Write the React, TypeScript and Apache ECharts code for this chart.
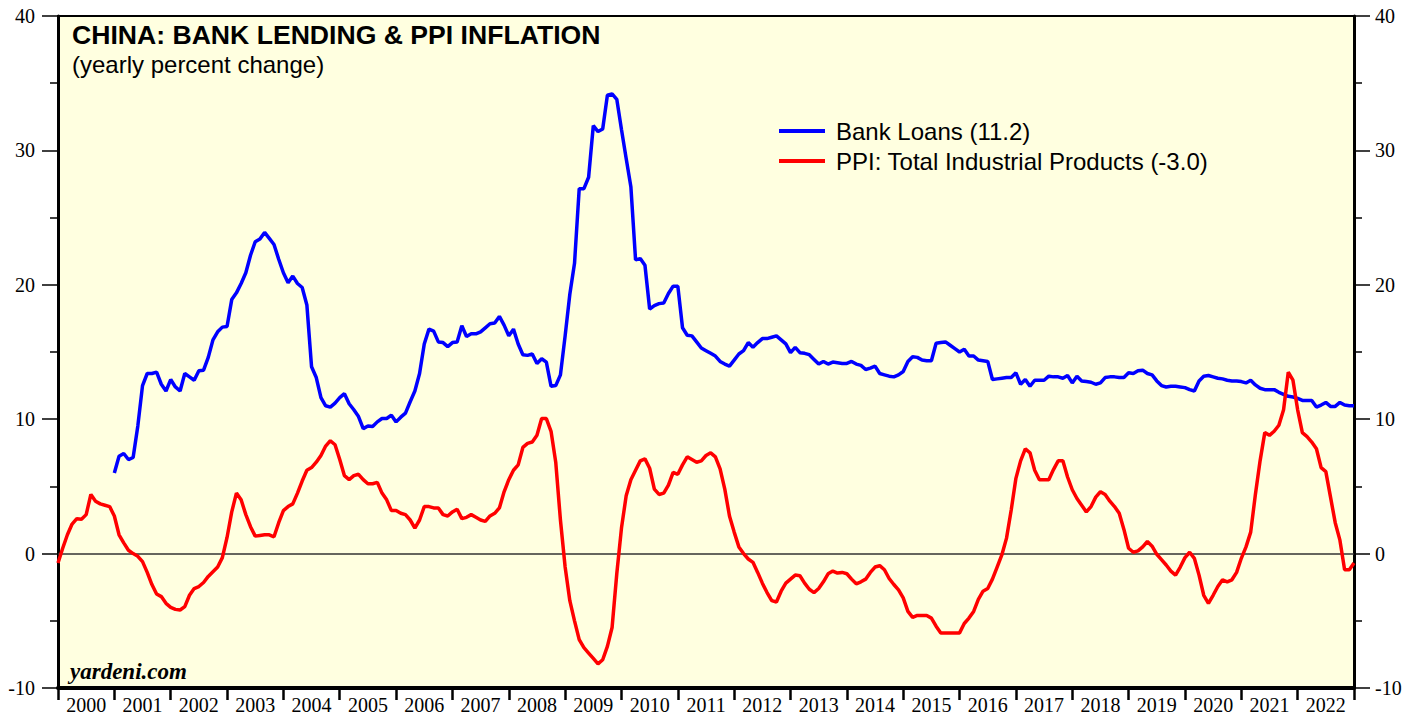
import React, { useEffect, useRef } from "react";
import * as echarts from "echarts";

// Year bands on the x-axis
const years = [
  "2000", "2001", "2002", "2003", "2004", "2005", "2006", "2007", "2008", "2009", "2010", "2011",
  "2012", "2013", "2014", "2015", "2016", "2017", "2018", "2019", "2020", "2021", "2022",
];

// PPI: Total Industrial Products, yearly % change, monthly Dec 1999 .. Dec 2022 (plotted at month end)
const ppi = [
  -0.7,
  0.4, 1.4, 2.2, 2.6, 2.55, 2.9, 4.4, 3.9, 3.7, 3.6, 3.5, 2.8,
  1.4, 0.8, 0.25, 0.0, -0.2, -0.6, -1.4, -2.3, -3.0, -3.2, -3.7, -4.0,
  -4.15, -4.2, -3.95, -3.1, -2.6, -2.45, -2.15, -1.7, -1.35, -1.0, -0.3, 1.2,
  3.1, 4.5, 4.0, 2.9, 2.0, 1.3, 1.35, 1.4, 1.4, 1.25, 2.3, 3.2,
  3.5, 3.7, 4.5, 5.4, 6.2, 6.4, 6.8, 7.3, 8.0, 8.4, 8.1, 7.0,
  5.8, 5.5, 5.8, 5.9, 5.5, 5.2, 5.2, 5.3, 4.5, 4.0, 3.2, 3.2,
  3.0, 2.9, 2.5, 1.9, 2.5, 3.5, 3.5, 3.4, 3.4, 2.9, 2.8, 3.1,
  3.3, 2.6, 2.7, 2.9, 2.7, 2.5, 2.4, 2.8, 3.0, 3.4, 4.6, 5.5,
  6.2, 6.6, 7.9, 8.2, 8.3, 8.8, 10.05, 10.05, 9.1, 6.8, 2.5, -1.0,
  -3.5, -5.0, -6.4, -7.0, -7.4, -7.8, -8.2, -7.9, -6.9, -5.5, -1.5, 1.9,
  4.3, 5.5, 6.2, 6.9, 7.05, 6.35, 4.8, 4.4, 4.5, 5.1, 6.05, 5.9,
  6.6, 7.2, 7.0, 6.8, 6.9, 7.3, 7.5, 7.2, 6.3, 4.8, 2.8, 1.6,
  0.5, 0.0, -0.4, -0.65, -1.4, -2.2, -2.9, -3.5, -3.6, -2.8, -2.2, -1.9,
  -1.6, -1.65, -2.2, -2.65, -2.9, -2.6, -2.1, -1.5, -1.3, -1.45, -1.4, -1.5,
  -1.9, -2.25, -2.1, -1.9, -1.4, -1.0, -0.9, -1.2, -1.85, -2.3, -2.7, -3.3,
  -4.3, -4.75, -4.6, -4.6, -4.6, -4.8, -5.4, -5.9, -5.9, -5.9, -5.9, -5.9,
  -5.2, -4.8, -4.3, -3.4, -2.8, -2.6, -1.9, -1.0, -0.1, 1.15, 3.25, 5.6,
  6.9, 7.8, 7.5, 6.2, 5.5, 5.5, 5.5, 6.25, 6.9, 6.9, 5.7, 4.75,
  4.1, 3.6, 3.1, 3.5, 4.2, 4.6, 4.4, 3.9, 3.5, 3.0, 1.8, 0.4,
  0.1, 0.2, 0.5, 0.9, 0.55, -0.05, -0.45, -0.85, -1.3, -1.6, -1.0, -0.3,
  0.1, -0.35, -1.6, -3.1, -3.7, -3.1, -2.45, -1.95, -2.1, -1.95, -1.4, -0.35,
  0.5, 1.6, 4.4, 6.9, 9.0, 8.8, 9.1, 9.55, 10.7, 13.5, 12.9, 10.7,
  9.0, 8.7, 8.3, 7.8, 6.4, 6.1, 4.2, 2.3, 1.0, -1.2, -1.2, -0.7,
];

// Bank Loans, yearly % change, monthly Dec 2000 .. Dec 2022 (plotted at month end)
const loansStartMonth = 12; // months after the Jan-2000 axis origin
const loans = [
  6.0,
  7.25, 7.45, 7.0, 7.15, 9.5, 12.5, 13.4, 13.4, 13.5, 12.6, 12.1, 12.95,
  12.4, 12.1, 13.4, 13.15, 12.9, 13.6, 13.65, 14.6, 15.9, 16.5, 16.85, 16.9,
  18.9, 19.4, 20.1, 20.9, 22.2, 23.2, 23.4, 23.9, 23.45, 23.0, 21.9, 20.9,
  20.15, 20.65, 20.1, 19.8, 18.5, 13.9, 13.1, 11.6, 11.0, 10.9, 11.2, 11.6,
  11.9, 11.15, 10.7, 10.2, 9.3, 9.5, 9.45, 9.8, 10.05, 10.05, 10.3, 9.8,
  10.15, 10.45, 11.3, 12.1, 13.4, 15.6, 16.7, 16.55, 15.75, 15.7, 15.4, 15.7,
  15.75, 16.95, 16.15, 16.35, 16.35, 16.5, 16.8, 17.1, 17.15, 17.65, 17.0, 16.2,
  16.7, 15.6, 14.8, 14.75, 14.85, 14.15, 14.5, 14.25, 12.45, 12.5, 13.3, 16.2,
  19.3, 21.6, 27.15, 27.15, 28.0, 31.85, 31.4, 31.6, 34.1, 34.2, 33.8, 31.55,
  29.4, 27.3, 21.85, 21.95, 21.45, 18.2, 18.45, 18.6, 18.65, 19.35, 19.9, 19.9,
  16.8, 16.25, 16.2, 15.75, 15.3, 15.1, 14.9, 14.7, 14.3, 14.1, 13.95, 14.4,
  14.85, 15.1, 15.7, 15.35, 15.7, 16.0, 16.0, 16.1, 16.2, 15.9, 15.6, 14.95,
  15.35, 14.95, 14.9, 14.8, 14.45, 14.1, 14.3, 14.1, 14.25, 14.2, 14.15, 14.15,
  14.3, 14.1, 14.0, 13.7, 13.8, 13.95, 13.4, 13.3, 13.2, 13.15, 13.3, 13.55,
  14.3, 14.65, 14.6, 14.4, 14.35, 14.35, 15.65, 15.7, 15.75, 15.5, 15.25, 15.0,
  15.2, 14.7, 14.7, 14.4, 14.35, 14.3, 12.95, 13.0, 13.05, 13.1, 13.1, 13.45,
  12.6, 12.95, 12.45, 12.9, 12.9, 12.9, 13.2, 13.15, 13.15, 13.05, 13.25, 12.7,
  13.2, 12.85, 12.8, 12.75, 12.6, 12.7, 13.1, 13.15, 13.15, 13.1, 13.1, 13.45,
  13.4, 13.6, 13.65, 13.4, 13.3, 12.85, 12.5, 12.4, 12.45, 12.45, 12.4, 12.35,
  12.2, 12.1, 12.85, 13.2, 13.25, 13.15, 13.05, 13.0, 12.9, 12.85, 12.85, 12.8,
  12.7, 12.9, 12.55, 12.3, 12.2, 12.2, 12.2, 12.0, 11.85, 11.7, 11.65, 11.55,
  11.4, 11.4, 11.4, 10.9, 11.05, 11.25, 10.95, 10.95, 11.25, 11.05, 11.0, 11.0,
];

const loansName = "Bank Loans (11.2)";
const ppiName = "PPI: Total Industrial Products (-3.0)";
const titleText = "CHINA: BANK LENDING & PPI INFLATION";
const subtitleText = "(yearly percent change)";
const sourceText = "yardeni.com";

const SANS = "'Liberation Sans', Arial, Helvetica, sans-serif";
const SERIF = "'Liberation Serif', 'Times New Roman', serif";

export default function App() {
  const ref = useRef<HTMLDivElement>(null);

  useEffect(() => {
    if (!ref.current) return;
    const chart = echarts.init(ref.current, null, { renderer: "svg" });
    const totalMonths = years.length * 12;

    const yAxisCommon = {
      type: "value",
      min: -10,
      max: 40,
      interval: 10,
      splitLine: { show: false },
      axisLine: { show: true, onZero: false, lineStyle: { color: "#000", width: 3 } },
      axisTick: { show: true, length: 16, lineStyle: { color: "#000", width: 1.5 } },
      minorTick: { show: true, splitNumber: 2, length: 8, lineStyle: { color: "#000", width: 1.5 } },
      axisLabel: { color: "#000", fontFamily: SERIF, fontSize: 20 },
    };

    chart.setOption({
      animation: false,
      backgroundColor: "#fff",
      grid: {
        left: 58,
        right: 65,
        top: 16,
        bottom: 29,
        show: true,
        backgroundColor: "#ffffe0",
        borderColor: "#000",
        borderWidth: 2,
      },
      legend: {
        orient: "vertical",
        left: 774,
        top: 114,
        itemWidth: 46,
        itemHeight: 4,
        itemGap: 6,
        icon: "rect",
        data: [loansName, ppiName],
        textStyle: { fontFamily: SANS, fontSize: 24, color: "#000", padding: [0, 0, 0, 6] },
      },
      xAxis: [
        {
          type: "category",
          data: years,
          position: "bottom",
          boundaryGap: true,
          axisLine: { show: true, onZero: false, lineStyle: { color: "#000", width: 4 } },
          axisTick: { show: true, length: 12, interval: 0, lineStyle: { color: "#000", width: 2.5 } },
          axisLabel: { color: "#000", fontFamily: SERIF, fontSize: 20, margin: 7, interval: 0 },
          splitLine: { show: false },
        },
        {
          type: "value",
          min: 0,
          max: totalMonths,
          show: false,
          axisLine: { onZero: false },
        },
      ],
      yAxis: [
        { ...yAxisCommon, position: "left", axisLabel: { ...yAxisCommon.axisLabel, margin: 23 } },
        { ...yAxisCommon, position: "right", axisLabel: { ...yAxisCommon.axisLabel, margin: 21 } },
      ],
      graphic: [
        {
          type: "text",
          left: 72,
          top: 21,
          style: { text: titleText, fontFamily: SANS, fontWeight: "bold", fontSize: 26.6, fill: "#000" },
        },
        {
          type: "text",
          left: 72,
          top: 52,
          style: { text: subtitleText, fontFamily: SANS, fontSize: 24, fill: "#000" },
        },
        {
          type: "text",
          left: 70,
          top: 660,
          style: {
            text: sourceText,
            fontFamily: SERIF,
            fontWeight: "bold",
            fontStyle: "italic",
            fontSize: 23,
            fill: "#000",
          },
        },
      ],
      series: [
        {
          name: loansName,
          type: "line",
          xAxisIndex: 1,
          yAxisIndex: 0,
          data: loans.map((v, i) => [loansStartMonth + i, v]),
          showSymbol: false,
          symbol: "none",
          lineStyle: { color: "#0000ff", width: 3.5 },
          itemStyle: { color: "#0000ff" },
          z: 3,
        },
        {
          name: ppiName,
          type: "line",
          xAxisIndex: 1,
          yAxisIndex: 0,
          data: ppi.map((v, i) => [i, v]),
          showSymbol: false,
          symbol: "none",
          lineStyle: { color: "#ff0000", width: 3.5 },
          itemStyle: { color: "#ff0000" },
          z: 4,
          markLine: {
            silent: true,
            symbol: "none",
            label: { show: false },
            lineStyle: { color: "#333", width: 1.5, type: "solid" },
            data: [{ yAxis: 0 }],
            z: 2,
          },
        },
      ],
    });

    return () => chart.dispose();
  }, []);

  return (
    <div
      ref={ref}
      style={{ position: "fixed", left: 0, top: 0, width: 1419, height: 717 }}
    />
  );
}
